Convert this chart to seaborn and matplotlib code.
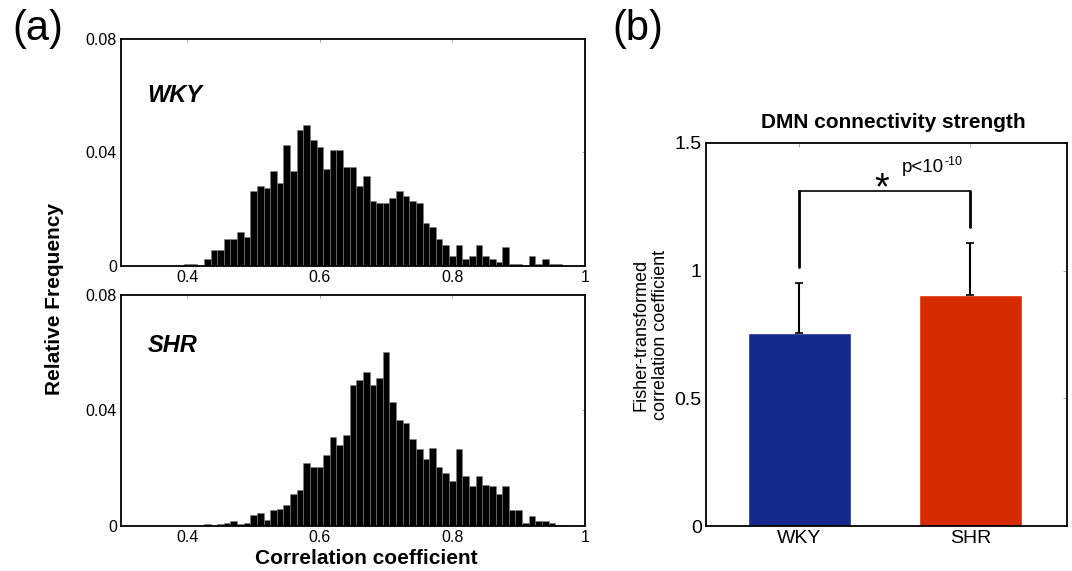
import numpy as np
import pandas as pd
import matplotlib
matplotlib.use("Agg")
import matplotlib.pyplot as plt
import seaborn as sns

# Histogram data (bin centres step 0.01, relative frequency)
WKY_CENTERS = np.round(np.arange(0.40, 0.965, 0.01), 2)
WKY_FREQ = [0.0008, 0.0008, 0.0, 0.0025, 0.0057, 0.0057, 0.0094, 0.0094, 0.0119, 0.0103,
            0.0266, 0.0282, 0.0274, 0.0333, 0.0291, 0.0428, 0.0333, 0.0480, 0.0496, 0.0445,
            0.0418, 0.0342, 0.0408, 0.0408, 0.0350, 0.0350, 0.0282, 0.0316, 0.0230, 0.0221,
            0.0221, 0.0239, 0.0266, 0.0246, 0.0230, 0.0221, 0.0152, 0.0137, 0.0094, 0.0075,
            0.0034, 0.0075, 0.0023, 0.0034, 0.0075, 0.0034, 0.0023, 0.0015, 0.0067, 0.0008,
            0.0008, 0.0, 0.0034, 0.0008, 0.0025, 0.0008, 0.0008]

SHR_CENTERS = np.round(np.arange(0.43, 0.975, 0.01), 2)
SHR_FREQ = [0.0006, 0.0, 0.0006, 0.0012, 0.0016, 0.0006, 0.0012,
            0.0038, 0.0044, 0.0021, 0.0054, 0.0060, 0.0074, 0.0111, 0.0123, 0.0219, 0.0205,
            0.0205, 0.0247, 0.0309, 0.0282, 0.0314, 0.0489, 0.0505, 0.0534, 0.0489, 0.0512,
            0.0601, 0.0428, 0.0366, 0.0355, 0.0302, 0.0265, 0.0233, 0.0269, 0.0203, 0.0185,
            0.0156, 0.0265, 0.0173, 0.0138, 0.0173, 0.0143, 0.0140, 0.0111, 0.0140, 0.0054,
            0.0054, 0.0010, 0.0033, 0.0016, 0.0016, 0.0010, 0.0, 0.0005]

# Bar chart data
GROUPS = ["WKY", "SHR"]
MEANS = [0.757, 0.904]
ERRS = [0.194, 0.203]
BAR_COLORS = ["#13298B", "#D82A00"]

sns.set_theme(style="white")
plt.rcParams['font.family'] = ['Liberation Sans', 'DejaVu Sans']
plt.rcParams['text.color'] = 'black'
plt.rcParams['axes.labelcolor'] = 'black'

fig = plt.figure(figsize=(10.72, 5.71), dpi=100)
ax_top = fig.add_axes([0.1129, 0.5342, 0.4328, 0.3975])
ax_bot = fig.add_axes([0.1129, 0.0788, 0.4328, 0.4046])
ax_bar = fig.add_axes([0.6586, 0.0788, 0.3368, 0.6708])

def style_hist(ax, centers, freq, label, ly):
    df = pd.DataFrame({"r": centers, "f": freq})
    sns.histplot(data=df, x="r", weights="f", binwidth=0.01, binrange=(0.295, 0.985),
                 ax=ax, color="black", edgecolor="#808080", linewidth=0.4, alpha=1)
    ax.set_xlim(0.3, 1.0)
    ax.set_ylim(0, 0.08)
    ax.set_xticks([0.4, 0.6, 0.8, 1.0], ["0.4", "0.6", "0.8", "1"])
    ax.set_yticks([0, 0.04, 0.08], ["0", "0.04", "0.08"])
    ax.tick_params(direction="in", length=2, width=0.6, color="0.6", labelcolor="black",
                   top=True, right=True, labelsize=11.5, pad=3)
    ax.set_xlabel("")
    ax.set_ylabel("")
    for s in ax.spines.values():
        s.set_color("black")
        s.set_linewidth(1.3)
    ax.text(0.34, ly, label, fontsize=17, fontweight="bold", fontstyle="italic")

style_hist(ax_top, WKY_CENTERS, WKY_FREQ, "WKY", 0.0577)
style_hist(ax_bot, SHR_CENTERS, SHR_FREQ, "SHR", 0.0603)

fig.text(55 / 1072, 0.476, "Relative Frequency", rotation=90, fontsize=15,
         fontweight="bold", ha="center", va="center")
fig.text(366 / 1072, 1 - 559 / 571, "Correlation coefficient", fontsize=15,
         fontweight="bold", ha="center", va="center")

# (b) bar chart
sns.barplot(x=GROUPS, y=MEANS, hue=GROUPS, palette=BAR_COLORS, saturation=1,
            width=0.6, legend=False, errorbar=None, ax=ax_bar)
ax_bar.errorbar([0, 1], MEANS, yerr=[[0, 0], ERRS], fmt="none", ecolor="black",
                elinewidth=1.5, capsize=3, capthick=1.2)
ax_bar.set_xlim(-0.545, 1.565)
ax_bar.set_ylim(0, 1.5)
ax_bar.set_yticks([0, 0.5, 1, 1.5], ["0", "0.5", "1", "1.5"])
ax_bar.tick_params(direction="in", length=3, width=0.6, color="0.6", labelcolor="black",
                   top=True, right=True, labelsize=14, pad=3)
for s in ax_bar.spines.values():
    s.set_color("black")
    s.set_linewidth(1.3)
ax_bar.set_ylabel("Fisher-transformed\ncorrelation coefficient", fontsize=13, labelpad=4)
ax_bar.set_title("DMN connectivity strength", fontsize=15, fontweight="bold", pad=11, x=0.52)

# significance bracket
ax_bar.plot([0, 0], [1.016, 1.312], color="black", lw=2)
ax_bar.plot([1, 1], [1.172, 1.312], color="black", lw=2)
ax_bar.plot([0, 1], [1.312, 1.312], color="black", lw=1.2)
ax_bar.text(0.48, 1.28, "*", fontsize=27, ha="center", va="baseline")
p_txt = ax_bar.text(0.60, 1.387, "p<10", fontsize=13.5, ha="left", va="baseline")
ax_bar.annotate("-10", xy=(1, 1), xycoords=p_txt, xytext=(0.5, 2), textcoords="offset points",
                fontsize=9, ha="left", va="top")

fig.text(12 / 1072, 1 - 9 / 571, "(a)", fontsize=30, ha="left", va="top")
fig.text(612 / 1072, 1 - 9 / 571, "(b)", fontsize=30, ha="left", va="top")

fig.savefig("out.png", dpi=100)
